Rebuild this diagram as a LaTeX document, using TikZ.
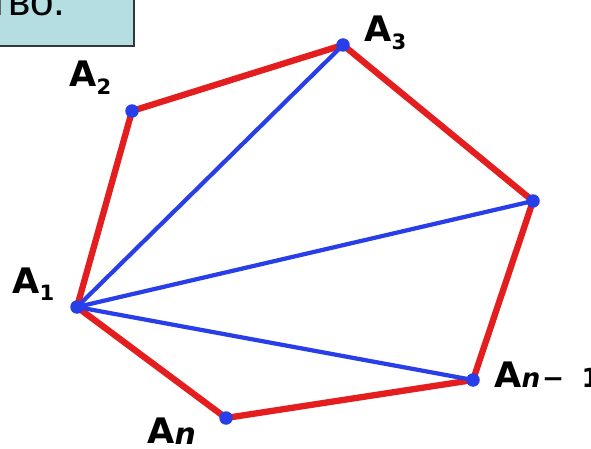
\documentclass[tikz,border=0pt]{standalone}
\usepackage{fontspec}
\setmainfont{DejaVu Sans}
\newfontfamily\boxfont{Liberation Sans}
\definecolor{edgered}{RGB}{228,30,30}
\definecolor{diagblue}{RGB}{40,62,232}
\definecolor{boxfill}{RGB}{180,222,226}
\definecolor{boxborder}{RGB}{50,55,60}
\newcommand\Adig[1]{\fontsize{20}{20}\selectfont\bfseries A\raisebox{-4.5pt}{\fontsize{12}{12}\selectfont #1}}
\newcommand\Aitn{\fontsize{20}{20}\selectfont\bfseries A\raisebox{-0.8pt}{\fontsize{17}{17}\selectfont\itshape n}}
\newcommand\Aitnm{\fontsize{20}{20}\selectfont\bfseries A\raisebox{-0.5pt}{\fontsize{15}{15}\selectfont\itshape n\upshape\kern1pt−\kern10pt 1}}
\tikzset{
  edge/.style={draw=edgered, line width=3.6pt, line cap=round, line join=round},
  diag/.style={draw=diagblue, line width=2.4pt, line cap=round},
  vdot/.style={circle, fill=diagblue, inner sep=0pt, minimum size=0.27cm},
  vlabel/.style={anchor=base west, inner sep=0pt, text=black},
}
\begin{document}
\begin{tikzpicture}[x=0.02cm, y=-0.02cm]
\useasboundingbox (0,0) rectangle (591,449);
\clip (0,0) rectangle (591,449);
% title box
\draw[fill=boxfill, draw=boxborder, line width=1.2pt] (-10,-10) rectangle (134,46);
\node[anchor=base west, inner sep=0pt] (title) at (8,16) {\boxfont\fontsize{24}{24}\selectfont\llap{т}во.};
% vertices
\coordinate (a1) at (77,307);
\coordinate (a2) at (132,111);
\coordinate (a3) at (343,45);
\coordinate (a4) at (533,201);
\coordinate (anm) at (473,380);
\coordinate (an) at (226,418);
% edges
\draw[edge] (a1) -- (a2) -- (a3) -- (a4) -- (anm) -- (an) -- cycle;
% diagonals
\draw[diag] (a1) -- (a3);
\draw[diag] (a1) -- (a4);
\draw[diag] (a1) -- (anm);
% dots
\foreach \p in {a1,a2,a3,a4,anm,an} \node[vdot] (d\p) at (\p) {};
% labels
\node[vlabel] (l1) at (12,293) {\Adig{1}};
\node[vlabel] (l2) at (69,87) {\Adig{2}};
\node[vlabel] (l3) at (364,42) {\Adig{3}};
\node[vlabel] (ln) at (147,443) {\Aitn};
\node[vlabel] (lnm) at (494,387) {\Aitnm};
\end{tikzpicture}
\end{document}
